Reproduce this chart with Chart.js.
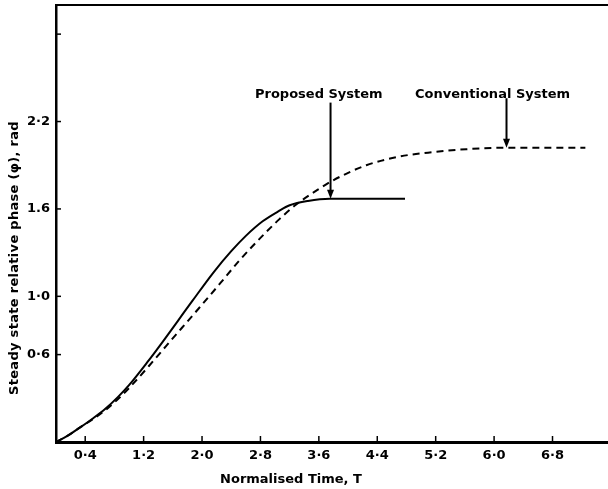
<!DOCTYPE html>
<html>
<head>
<meta charset="utf-8">
<script src="https://cdn.jsdelivr.net/npm/chart.js@4/dist/chart.umd.min.js"></script>
<style>
  html, body { margin: 0; padding: 0; background: #fff; }
  #wrap { width: 608px; height: 489px; }
</style>
</head>
<body>
<div id="wrap"><canvas id="c" width="608" height="489"></canvas></div>
<script>
// ---- data ----
const proposedT   = [0, 0.15, 0.33, 0.50, 0.68, 0.85, 1.00, 1.27, 1.42, 1.87, 2.15, 2.40, 2.60, 2.83, 3.05, 3.20, 3.45, 3.75, 4.16, 4.78];
const proposedPhi = [0, 0.04, 0.10, 0.16, 0.23, 0.31, 0.39, 0.56, 0.66, 0.97, 1.16, 1.31, 1.415, 1.515, 1.585, 1.625, 1.655, 1.67, 1.67, 1.67];

const conventionalT   = [0, 0.15, 0.33, 0.50, 0.68, 0.85, 1.00, 1.27, 1.51, 1.96, 2.25, 2.51, 2.74, 3.06, 3.29, 3.61, 3.79, 4.25, 4.71, 5.16, 5.62, 6.17, 7.25];
const conventionalPhi = [0, 0.04, 0.10, 0.155, 0.22, 0.295, 0.37, 0.52, 0.66, 0.92, 1.09, 1.245, 1.37, 1.53, 1.63, 1.74, 1.795, 1.90, 1.96, 1.99, 2.01, 2.02, 2.02];

const xTicks = [0.4, 1.2, 2.0, 2.8, 3.6, 4.4, 5.2, 6.0, 6.8];
const xTickLabels = ['0·4', '1·2', '2·0', '2·8', '3·6', '4·4', '5·2', '6·0', '6·8'];
const yTicks = [0.6, 1.0, 1.6, 2.2, 2.8];
const yTickLabels = ['0·6', '1·0', '1.6', '2·2', ''];

const xTitle = 'Normalised Time, T';
const yTitle = 'Steady state relative phase (φ), rad';
const annotations = [
  { text: 'Proposed System', x: 3.76, y: 1.67, tailY: 2.33 },
  { text: 'Conventional System', x: 6.17, y: 2.02, tailY: 2.36 }
];

const FONT = '"DejaVu Sans", sans-serif';

function toXY(xs, ys) { return xs.map((x, i) => ({ x: x, y: ys[i] })); }

const decor = {
  id: 'decor',
  afterDraw(chart) {
    const ctx = chart.ctx;
    const xs = chart.scales.x, ys = chart.scales.y;
    const ca = chart.chartArea;
    ctx.save();
    ctx.strokeStyle = '#000';
    ctx.fillStyle = '#000';
    // top frame line
    ctx.lineWidth = 2;
    ctx.beginPath();
    ctx.moveTo(ca.left, ca.top);
    ctx.lineTo(ca.right, ca.top);
    ctx.stroke();
    // inward tick marks
    ctx.lineWidth = 1.5;
    xTicks.forEach(v => {
      const px = xs.getPixelForValue(v);
      ctx.beginPath(); ctx.moveTo(px, ca.bottom); ctx.lineTo(px, ca.bottom - 6); ctx.stroke();
    });
    yTicks.forEach(v => {
      const py = ys.getPixelForValue(v);
      ctx.beginPath(); ctx.moveTo(ca.left, py); ctx.lineTo(ca.left + 5, py); ctx.stroke();
    });
    // annotations with arrows
    ctx.font = 'bold 13px ' + FONT;
    ctx.textBaseline = 'middle';
    annotations.forEach(a => {
      const px = xs.getPixelForValue(a.x);
      const tip = ys.getPixelForValue(a.y);
      const tail = ys.getPixelForValue(a.tailY);
      ctx.lineWidth = 2;
      ctx.beginPath(); ctx.moveTo(px, tail); ctx.lineTo(px, tip - 6); ctx.stroke();
      ctx.beginPath();
      ctx.moveTo(px - 3.5, tip - 9);
      ctx.lineTo(px + 3.5, tip - 9);
      ctx.lineTo(px, tip);
      ctx.closePath(); ctx.fill();
    });
    ctx.textAlign = 'left';
    ctx.fillText(annotations[0].text, 255, 95);
    ctx.fillText(annotations[1].text, 415, 95);
    // axis titles
    ctx.font = 'bold 13px ' + FONT;
    ctx.textAlign = 'center';
    ctx.fillText(xTitle, 291, 480);
    ctx.save();
    ctx.translate(15, 258);
    ctx.rotate(-Math.PI / 2);
    ctx.letterSpacing = '0.3px';
    ctx.fillText(yTitle, 0, 0);
    ctx.restore();
    ctx.restore();
  }
};

new Chart(document.getElementById('c'), {
  type: 'line',
  data: {
    datasets: [
      {
        label: 'Proposed System',
        data: toXY(proposedT, proposedPhi),
        borderColor: '#000',
        borderWidth: 2,
        pointRadius: 0,
        cubicInterpolationMode: 'monotone',
        fill: false
      },
      {
        label: 'Conventional System',
        data: toXY(conventionalT, conventionalPhi),
        borderColor: '#000',
        borderWidth: 2,
        borderDash: [7, 5],
        pointRadius: 0,
        cubicInterpolationMode: 'monotone',
        fill: false
      }
    ]
  },
  options: {
    responsive: false,
    animation: false,
    layout: { padding: { top: 5, right: 0, left: 0, bottom: 0 } },
    plugins: { legend: { display: false }, tooltip: { enabled: false } },
    scales: {
      x: {
        type: 'linear',
        min: 0,
        max: 7.56,
        afterBuildTicks: (s) => { s.ticks = xTicks.map(v => ({ value: v })); },
        afterFit: (s) => { s.height = 47; s.paddingLeft = 0; s.paddingRight = 0; },
        grid: { display: true, drawOnChartArea: false, drawTicks: false },
        border: { display: true, color: '#000', width: 3 },
        ticks: {
          color: '#000',
          padding: 6,
          maxRotation: 0,
          autoSkip: false,
          font: { family: FONT, size: 13, weight: 'bold' },
          callback: (v) => { const i = xTicks.indexOf(Math.round(v * 10) / 10); return i >= 0 ? xTickLabels[i] : ''; }
        }
      },
      y: {
        type: 'linear',
        min: 0,
        max: 3.0,
        afterBuildTicks: (s) => { s.ticks = yTicks.map(v => ({ value: v })); },
        afterFit: (s) => { s.width = 56; s.paddingTop = 0; s.paddingBottom = 0; },
        grid: { display: true, drawOnChartArea: false, drawTicks: false },
        border: { display: true, color: '#000', width: 2.5 },
        ticks: {
          color: '#000',
          padding: 6,
          autoSkip: false,
          font: { family: FONT, size: 13, weight: 'bold' },
          callback: (v) => { const i = yTicks.indexOf(Math.round(v * 10) / 10); return i >= 0 ? yTickLabels[i] : ''; }
        }
      }
    }
  },
  plugins: [decor]
});
</script>
</body>
</html>
